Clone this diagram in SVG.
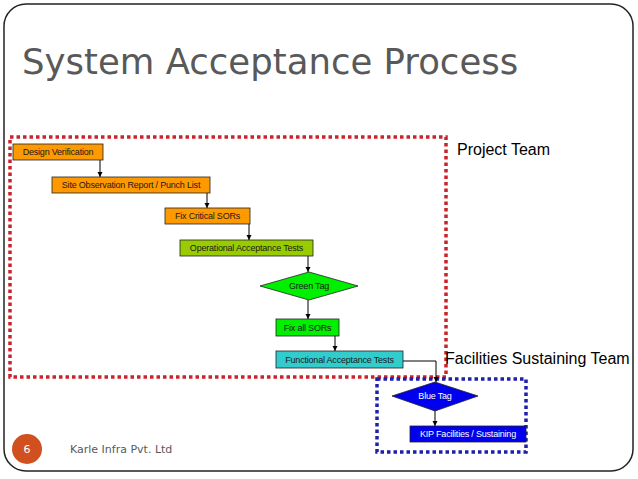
<svg xmlns="http://www.w3.org/2000/svg" width="638" height="479" viewBox="0 0 638 479">
<defs>
<marker id="arr" viewBox="0 0 6 6" refX="6" refY="3" markerWidth="5" markerHeight="6" markerUnits="userSpaceOnUse" orient="auto">
<path d="M0,0 L6,3 L0,6 z" fill="#000"/>
</marker>
</defs>
<style>
.frame{fill:#fff;stroke:#222;stroke-width:1.5}
.title{font-family:"DejaVu Sans",Verdana,sans-serif;font-size:35.5px;fill:#595959}
.box{stroke:#222;stroke-width:0.8}
.t{font-family:"Liberation Sans",Arial,sans-serif;font-size:9px;text-anchor:middle;fill:#1a1a1a;letter-spacing:-0.2px}
.tw{fill:#fff}
.lbl{font-family:"Liberation Sans",Arial,sans-serif;font-size:16px;fill:#000}
.conn{stroke:#000;stroke-width:1;fill:none;marker-end:url(#arr)}
.red{fill:none;stroke:#CC2229;stroke-width:3.5;stroke-dasharray:3.5 3}
.blue{fill:none;stroke:#1F1FB0;stroke-width:3.5;stroke-dasharray:3.5 3}
.foot{font-family:"DejaVu Sans",Verdana,sans-serif;font-size:11px;fill:#595959}
</style>
<rect width="638" height="479" fill="#fff"/>
<rect class="frame" x="4" y="4" width="629" height="467" rx="22" ry="22"/>
<text class="title" x="22" y="74">System Acceptance Process</text>

<g id="team-regions">
<rect class="red" x="10" y="137" width="436" height="240"/>
<rect class="blue" x="377" y="379" width="149" height="73"/>
<text class="lbl" x="457" y="155">Project Team</text>
<text class="lbl" x="445" y="364">Facilities Sustaining Team</text>
</g>

<g id="connectors">
<line class="conn" x1="100" y1="160" x2="100" y2="177"/>
<line class="conn" x1="207" y1="193" x2="207" y2="208"/>
<line class="conn" x1="249" y1="224" x2="249" y2="240"/>
<line class="conn" x1="308" y1="256" x2="308" y2="272"/>
<line class="conn" x1="308" y1="300" x2="308" y2="319"/>
<line class="conn" x1="335" y1="336" x2="335" y2="351"/>
<polyline class="conn" points="403,361 436,361 436,382"/>
<line class="conn" x1="435" y1="411" x2="435" y2="426"/>
</g>

<g id="design-verification">
<rect class="box" x="13" y="144" width="90" height="16" fill="#FF9900"/>
<text class="t" x="58" y="155.3">Design Verification</text>
</g>
<g id="site-observation">
<rect class="box" x="52" y="177" width="158" height="16" fill="#FF9900"/>
<text class="t" x="131" y="188.3">Site Observation Report / Punch List</text>
</g>
<g id="fix-critical">
<rect class="box" x="165" y="208" width="85" height="16" fill="#FF9900"/>
<text class="t" x="207.5" y="219.3">Fix Critical SORs</text>
</g>
<g id="operational-acceptance">
<rect class="box" x="180" y="240" width="133" height="16" fill="#99CC00"/>
<text class="t" x="246.5" y="251.3">Operational Acceptance Tests</text>
</g>
<g id="green-tag">
<polygon class="box" points="260,286 309,272 358,286 309,300" fill="#00F000"/>
<text class="t" x="309" y="289.3">Green Tag</text>
</g>
<g id="fix-all">
<rect class="box" x="276" y="319" width="63" height="17" fill="#00F000"/>
<text class="t" x="307.5" y="330.8">Fix all SORs</text>
</g>
<g id="functional-acceptance">
<rect class="box" x="276" y="351" width="127" height="17" fill="#33CCCC"/>
<text class="t" x="339.5" y="362.8">Functional Acceptance Tests</text>
</g>
<g id="blue-tag">
<polygon class="box" points="392,396 435,382 478,396 435,411" fill="#0000EE"/>
<text class="t tw" x="435" y="399.3">Blue Tag</text>
</g>
<g id="kip">
<rect class="box" x="410" y="426" width="116" height="16" fill="#0000EE"/>
<text class="t tw" x="468" y="437.3">KIP Facilities / Sustaining</text>
</g>

<g id="footer">
<circle cx="27" cy="449" r="15" fill="#D0501F"/>
<text x="27" y="453" font-family="DejaVu Sans,Verdana,sans-serif" font-size="11" fill="#fff" text-anchor="middle">6</text>
<text class="foot" x="70" y="453">Karle Infra Pvt. Ltd</text>
</g>
</svg>
